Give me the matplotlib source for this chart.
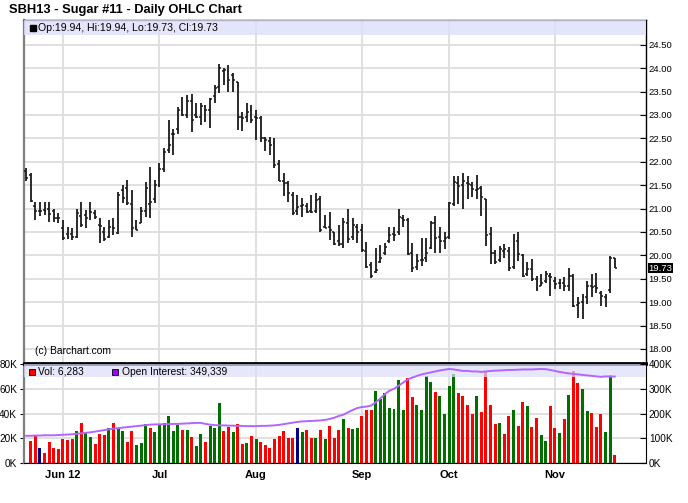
import matplotlib
matplotlib.use('Agg')
import matplotlib.pyplot as plt
from matplotlib.patches import Rectangle
import numpy as np
import pandas as pd

plt.rcParams['font.family'] = ['Liberation Sans', 'DejaVu Sans']

# trading days shown on the chart
holidays = ['2012-05-28', '2012-07-04', '2012-09-03']
dates = pd.bdate_range('2012-05-21', '2012-11-20')
dates = dates[~dates.isin(pd.to_datetime(holidays))]

month_labels = ['Jun 12', 'Jul', 'Aug', 'Sep', 'Oct', 'Nov']

opens = [21.80, 21.72, 21.05, 20.95, 20.98, 21.00, 20.95, 20.80, 20.58, 20.45,
         20.45, 20.40, 20.85, 20.87, 20.95, 20.90, 20.65, 20.50, 20.40, 20.60,
         20.47, 21.40, 21.45, 21.10, 20.60, 20.70, 20.95, 21.10, 21.20, 21.50,
         21.85, 22.25, 22.60, 22.70, 23.10, 23.00, 23.30, 23.00, 22.95, 23.20,
         23.10, 23.40, 23.60, 23.95, 23.95, 23.85, 23.70, 22.95, 22.95, 23.10,
         22.95, 22.93, 22.50, 22.45, 22.40, 21.95, 21.60, 21.55, 21.30, 20.95,
         21.05, 21.05, 20.95, 20.95, 21.20, 20.60, 20.60, 20.50, 20.30, 20.25,
         20.70, 20.40, 20.60, 20.55, 20.10, 19.80, 19.65, 19.85, 20.05, 20.30,
         20.45, 20.50, 20.80, 20.75, 20.05, 19.75, 19.90, 19.95, 20.15, 20.70,
         20.40, 20.30, 20.40, 21.10, 21.55, 21.50, 21.55, 21.50, 21.40, 21.45,
         21.20, 20.45, 20.05, 19.90, 20.10, 20.10, 19.75, 20.30, 20.00, 19.60,
         19.70, 19.50, 19.35, 19.45, 19.55, 19.45, 19.40, 19.40, 19.35, 19.55,
         18.95, 19.00, 19.10, 19.35, 19.35, 19.20, 19.10, 19.25, 19.94]

highs = [21.86, 21.77, 21.15, 21.13, 21.15, 21.13, 21.00, 20.90, 20.76, 20.60,
         20.58, 21.00, 21.15, 20.97, 21.15, 20.97, 20.80, 20.60, 20.76, 20.80,
         21.36, 21.50, 21.61, 21.40, 20.76, 21.04, 21.57, 21.88, 21.61, 21.97,
         22.29, 22.90, 22.69, 23.18, 23.39, 23.43, 23.44, 23.25, 23.25, 23.22,
         23.37, 23.64, 24.10, 24.00, 24.07, 23.89, 23.71, 23.07, 23.25, 23.22,
         23.11, 22.97, 22.54, 22.54, 22.50, 22.04, 21.75, 21.58, 21.36, 21.29,
         21.22, 21.11, 21.29, 21.33, 21.26, 20.86, 20.93, 20.50, 20.65, 20.79,
         21.00, 20.79, 20.68, 20.68, 20.29, 19.86, 20.15, 20.22, 20.26, 20.61,
         20.61, 21.00, 20.86, 20.79, 20.26, 20.04, 20.38, 20.38, 20.74, 20.85,
         20.60, 20.49, 21.13, 21.70, 21.70, 21.75, 21.70, 21.56, 21.72, 21.49,
         21.20, 20.60, 20.11, 20.20, 20.24, 20.17, 20.45, 20.49, 20.03, 19.85,
         19.92, 19.56, 19.60, 19.67, 19.63, 19.53, 19.49, 19.53, 19.74, 19.60,
         19.10, 19.17, 19.46, 19.60, 19.63, 19.24, 19.17, 19.99, 19.94]

lows = [21.59, 21.15, 20.76, 20.85, 20.86, 20.72, 20.72, 20.69, 20.33, 20.35,
        20.33, 20.37, 20.60, 20.58, 20.76, 20.78, 20.26, 20.31, 20.37, 20.43,
        20.45, 21.11, 21.08, 20.40, 20.54, 20.69, 20.83, 20.80, 21.11, 21.47,
        21.79, 22.18, 22.15, 22.60, 22.97, 22.93, 22.63, 22.93, 22.78, 22.86,
        22.72, 23.25, 23.47, 23.64, 23.50, 23.50, 22.68, 22.65, 22.86, 22.82,
        22.47, 22.43, 22.22, 22.15, 21.86, 21.58, 21.26, 21.15, 20.86, 20.86,
        20.83, 20.90, 20.90, 20.90, 20.50, 20.58, 20.33, 20.22, 20.19, 20.15,
        20.26, 20.33, 20.26, 20.08, 19.72, 19.51, 19.62, 19.83, 20.00, 20.26,
        20.30, 20.44, 20.61, 20.00, 19.65, 19.69, 19.78, 19.85, 20.13, 20.06,
        20.06, 20.13, 20.35, 21.06, 21.10, 20.99, 21.20, 21.24, 21.20, 20.85,
        20.20, 19.81, 19.81, 19.85, 19.95, 19.67, 19.70, 19.88, 19.53, 19.56,
        19.46, 19.24, 19.35, 19.42, 19.13, 19.28, 19.28, 19.24, 19.24, 18.89,
        18.67, 18.64, 18.96, 19.10, 19.20, 18.92, 18.89, 19.20, 19.73]

closes = [21.65, 21.17, 20.95, 20.95, 20.95, 20.88, 20.80, 20.79, 20.37, 20.40,
          20.40, 20.90, 20.65, 20.80, 20.93, 20.82, 20.62, 20.36, 20.60, 20.58,
          21.30, 21.22, 21.12, 20.58, 20.55, 20.95, 21.45, 21.15, 21.50, 21.85,
          22.20, 22.35, 22.60, 23.10, 23.00, 23.30, 22.90, 22.95, 23.20, 23.10,
          23.35, 23.57, 24.00, 23.97, 23.75, 23.75, 22.95, 22.93, 23.07, 22.90,
          22.93, 22.50, 22.47, 22.36, 21.93, 21.60, 21.55, 21.33, 20.90, 21.04,
          21.08, 20.93, 20.93, 21.18, 20.54, 20.58, 20.54, 20.25, 20.25, 20.72,
          20.36, 20.65, 20.50, 20.12, 19.76, 19.55, 19.69, 19.94, 20.18, 20.44,
          20.44, 20.83, 20.76, 20.04, 19.72, 19.88, 19.90, 20.06, 20.70, 20.38,
          20.31, 20.38, 21.11, 21.56, 21.49, 21.59, 21.52, 21.42, 21.42, 21.24,
          20.44, 20.06, 19.85, 20.13, 20.13, 19.74, 20.31, 20.03, 19.56, 19.70,
          19.49, 19.31, 19.42, 19.60, 19.53, 19.38, 19.42, 19.35, 19.56, 18.92,
          18.99, 19.10, 19.35, 19.33, 19.31, 19.13, 19.10, 19.95, 19.73]

# volume in thousands (first day not shown)
volume = [np.nan, 17.9, 22.8, 12.4, 8.2, 17.0, 12.4, 11.5, 19.5, 18.7,
          19.5, 26.1, 32.7, 23.9, 21.4, 15.1, 23.1, 22.3, 28.6, 32.7,
          27.2, 25.5, 17.3, 25.5, 14.8, 16.5, 31.3, 28.0, 24.7, 31.0,
          32.1, 37.6, 25.5, 30.8, 26.4, 26.4, 21.4, 14.0, 23.1, 17.3,
          30.2, 28.3, 48.1, 25.5, 28.8, 24.7, 31.9, 15.7, 16.5, 21.8,
          19.6, 16.8, 14.7, 12.3, 19.6, 21.7, 25.9, 20.3, 19.8, 28.2,
          25.1, 26.8, 20.5, 19.8, 26.9, 19.2, 30.2, 20.3, 26.9, 35.2,
          28.0, 27.7, 28.6, 37.6, 43.1, 43.1, 58.5, 51.4, 56.9, 44.8,
          44.0, 66.8, 42.6, 68.4, 53.0, 46.7, 43.1, 70.6, 65.1, 57.7,
          53.8, 39.3, 62.6, 72.2, 56.9, 54.1, 47.2, 39.3, 53.8, 40.9,
          74.2, 47.2, 31.9, 32.4, 23.1, 37.9, 43.1, 30.2, 49.4, 45.9,
          29.4, 36.5, 22.3, 18.1, 46.4, 28.6, 24.4, 35.2, 54.7, 74.2,
          64.3, 60.2, 41.8, 40.4, 29.4, 39.3, 25.3, 71.4, 6.283]

# u = up day, d = down day, n = unchanged
vol_dir = ("x" + "ddnddddddd" + "uduudddudu" + "udduuuduuu" + "uuududuudu"
           + "uudduddudu" + "ddddddddnu" + "ddududddud" + "uuddduuuuu"
           + "uudduuuudu" + "uuuddddudd" + "ddudduddud" + "duuddududd"
           + "uuddduud")

# open interest in thousands
open_interest = [110, 110, 111, 111, 112, 112, 112, 113, 114, 115,
                 116, 118, 120, 122, 124, 127, 130, 133, 136, 139,
                 141, 143, 145, 147, 149, 151, 153, 155, 156, 156,
                 157, 157, 158, 158, 159, 160, 161, 162, 162, 158,
                 155, 153, 152, 152, 151, 151, 150, 150, 149, 149,
                 149, 150, 150, 151, 152, 154, 157, 160, 163, 166,
                 168, 169, 170, 171, 172, 174, 178, 183, 190, 195,
                 205, 214, 222, 226, 228, 232, 245, 260, 278, 292,
                 300, 312, 325, 338, 345, 352, 358, 362, 366, 370,
                 374, 377, 380, 378, 375, 372, 372, 370, 370, 368,
                 370, 372, 373, 374, 375, 376, 376, 377, 378, 378,
                 378, 379, 380, 379, 376, 372, 368, 365, 362, 360,
                 358, 356, 354, 352, 350, 348, 350, 349, 349.339]

W, H = 688, 503


def fx(px):
    return px / W


def fy(py):
    return 1 - py / H


fig = plt.figure(figsize=(W / 100, H / 100), dpi=100)
fig.patch.set_facecolor('white')

ax = fig.add_axes([fx(24), fy(363), fx(646) - fx(24), fy(20) - fy(363)])
axv = fig.add_axes([fx(24), fy(463), fx(646) - fx(24), fy(364) - fy(463)])

x = np.arange(len(dates))
month_idx = np.flatnonzero(np.diff(dates.month) != 0) + 1
grid_kw = dict(color='#dddddd', lw=1.3)
band_color = '#dedefa'

# ---- price panel ----
ax.vlines(x, lows, highs, color='#1a1a1a', lw=1.3, zorder=3)
ax.hlines(opens, x - 0.42, x, color='#1a1a1a', lw=1.1, zorder=3)
ax.hlines(closes, x, x + 0.42, color='#1a1a1a', lw=1.1, zorder=3)
ax.set_xlim(-0.46, 134.8)
ax.set_ylim(17.70, 25.03)
ax.set_xticks(month_idx)
ax.set_yticks(np.arange(18.0, 24.51, 0.5))
ax.grid(True, **grid_kw)
ax.set_axisbelow(True)
ax.yaxis.tick_right()
ax.yaxis.set_major_formatter(matplotlib.ticker.FormatStrFormatter('%.2f'))
ax.tick_params(axis='y', direction='in', length=4, pad=2, labelsize=6.8)
ax.tick_params(axis='x', length=0, labelbottom=False)
for side in ['top', 'right']:
    ax.spines[side].set_color('black')
    ax.spines[side].set_linewidth(1)
ax.spines['left'].set_color('#7f7f7f')
ax.spines['left'].set_linewidth(1.6)
ax.spines['bottom'].set_color('black')
ax.spines['bottom'].set_linewidth(2)

ax.add_patch(Rectangle((0, 1 - 15 / 343), 1, 15 / 343, transform=ax.transAxes,
                       facecolor=band_color, edgecolor='none', alpha=0.8, zorder=4))
ax.annotate(f"{closes[-1]:.2f}", xy=(1, closes[-1]), xycoords=ax.get_yaxis_transform(),
            xytext=(2, 0), textcoords='offset points', ha='left', va='center',
            color='white', fontsize=6.8,
            bbox=dict(boxstyle='square,pad=0.08', fc='black', ec='none'),
            annotation_clip=False)

# ---- volume panel ----
dir_colors = {'u': '#006f00', 'd': '#ff0000', 'n': '#000080', 'x': 'none'}
axv.bar(x, np.nan_to_num(volume), width=0.65, color=[dir_colors[c] for c in vol_dir],
        zorder=2)
axv.set_xlim(-0.46, 134.8)
axv.set_ylim(0, 80)
axv.set_yticks([0, 20, 40, 60, 80])
axv.yaxis.set_major_formatter(matplotlib.ticker.FuncFormatter(lambda v, p: f"{v:.0f}K"))
axv.set_xticks(month_idx)
axv.set_xticklabels(month_labels, fontweight='bold', fontsize=8)
axv.tick_params(axis='x', length=0, pad=5)
axv.tick_params(axis='y', direction='out', length=3, pad=2, labelsize=7.2)
axv.grid(True, **grid_kw)
axv.set_axisbelow(True)
axv.spines['left'].set_color('#7f7f7f')
axv.spines['left'].set_linewidth(1.6)
axv.spines['top'].set_color('black')
axv.spines['top'].set_linewidth(2)
axv.spines['right'].set_color('black')
axv.spines['bottom'].set_color('black')
axv.add_patch(Rectangle((0, 1 - 13 / 99), 1, 13 / 99, transform=axv.transAxes,
                        facecolor=band_color, edgecolor='none', alpha=0.7, zorder=3))

axo = axv.twinx()
axo.plot(x, open_interest, color='#b266ff', lw=1.4)
axo.set_ylim(0, 400)
axo.set_yticks([0, 100, 200, 300, 400])
axo.yaxis.set_major_formatter(matplotlib.ticker.FuncFormatter(lambda v, p: f"{v:.0f}K"))
axo.tick_params(axis='y', direction='in', length=4, pad=2, labelsize=7.2)
for s in axo.spines.values():
    s.set_visible(False)

# ---- texts and legend keys ----
fig.text(fx(9), fy(10), "SBH13 - Sugar #11 - Daily OHLC Chart", fontsize=9.3,
         fontweight='bold', va='center', ha='left')
fig.add_artist(Rectangle((fx(30), fy(31)), 6 / W, 6 / H, transform=fig.transFigure,
                         facecolor='black', edgecolor='black'))
fig.text(fx(38), fy(28),
         f"Op:{opens[-1]:.2f}, Hi:{highs[-1]:.2f}, Lo:{lows[-1]:.2f}, Cl:{closes[-1]:.2f}",
         fontsize=7.6, va='center', ha='left')
fig.text(fx(35), fy(351), "(c) Barchart.com", fontsize=7.4, va='center', ha='left')

fig.add_artist(Rectangle((fx(29), fy(375)), 6 / W, 6 / H, transform=fig.transFigure,
                         facecolor='#ff0000', edgecolor='black', lw=0.6))
fig.text(fx(38), fy(372), f"Vol: {volume[-1] * 1000:,.0f}", fontsize=7.4, va='center', ha='left')
fig.add_artist(Rectangle((fx(112), fy(375)), 6 / W, 6 / H, transform=fig.transFigure,
                         facecolor='#9900ff', edgecolor='black', lw=0.6))
fig.text(fx(122), fy(372), f"Open Interest: {open_interest[-1] * 1000:,.0f}", fontsize=7.4,
         va='center', ha='left')

fig.savefig('out.png', dpi=100)
